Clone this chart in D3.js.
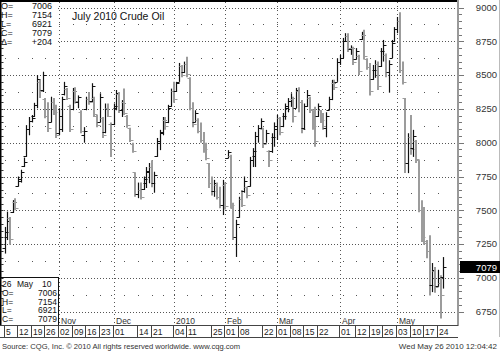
<!DOCTYPE html>
<html>
<head>
<meta charset="utf-8">
<script src="https://cdn.jsdelivr.net/npm/d3@7"></script>
<style>
  body { margin: 0; background: #fff; }
  svg { display: block; font-family: "Liberation Sans", Arial, sans-serif; }
</style>
</head>
<body>
<svg id="chart" width="500" height="352"></svg>
<script>
// trading calendar
var firstDay = "2009-10-05",
    lastDay = "2010-05-26",
    holidays = ["2009-11-26", "2009-12-25", "2010-01-01", "2010-01-18", "2010-02-15", "2010-04-02"];

// daily OHLC, July 2010 crude (one value per trading day)
var opens = [
  7220,7300,7440,7490,7560,7680,7720,7830,7900,8100,
  8160,8200,8280,8450,8390,8320,8200,8150,8300,8230,
  8070,8100,8360,8400,8270,8250,8380,8300,8230,8060,
  8250,8320,8310,8330,8200,8150,8180,8080,8260,8140,
  8140,8260,8360,8240,8300,8200,8110,7990,7780,7620,
  7650,7660,7700,7780,7820,7700,7900,8000,8070,8170,
  8150,8270,8380,8380,8450,8570,8520,8580,8480,8260,
  8150,8170,8090,8020,7950,7850,7700,7640,7690,7600,
  7540,7690,7890,7900,7520,7300,7450,7580,7640,7670,
  7680,7870,7900,8050,8110,8100,8000,7940,7940,8040,
  8100,8180,8120,8200,8260,8310,8320,8260,8380,8300,
  8110,8270,8330,8240,8200,8200,8240,8170,8110,8240,
  8320,8440,8450,8600,8630,8750,8790,8690,8700,8620,
  8640,8770,8800,8620,8560,8470,8540,8580,8570,8680,
  8650,8520,8630,8750,8840,8900,8540,8330,7850,8040,
  7960,8010,7870,7500,7480,7260,7200,6950,7050,6940,
  6960,7006];
var highs = [
  7377,7490,7450,7575,7590,7750,7800,7890,8130,8190,
  8205,8295,8500,8465,8525,8330,8300,8340,8330,8280,
  8255,8340,8450,8405,8280,8405,8410,8350,8240,8115,
  8340,8375,8440,8340,8205,8365,8190,8290,8290,8150,
  8290,8390,8375,8315,8400,8205,8110,8000,7780,7705,
  7705,7750,7820,7850,7870,7785,8035,8095,8190,8190,
  8280,8400,8450,8450,8590,8575,8600,8635,8485,8300,
  8240,8180,8150,8080,8000,7850,7750,7725,7705,7675,
  7725,7705,7945,7910,7555,7430,7600,7650,7750,7675,
  7895,7960,8080,8130,8180,8110,8095,7945,8070,8150,
  8205,8190,8220,8290,8330,8365,8340,8405,8410,8315,
  8290,8390,8340,8240,8265,8290,8240,8220,8225,8340,
  8465,8465,8625,8650,8775,8810,8810,8720,8710,8700,
  8650,8820,8835,8625,8590,8575,8610,8600,8700,8760,
  8660,8610,8760,8855,8930,8965,8600,8330,8070,8205,
  8095,8020,7870,7575,7525,7280,7315,7110,7080,7060,
  7020,7154];
var lows = [
  7180,7280,7245,7480,7500,7675,7705,7820,7895,8055,
  8150,8190,8255,8330,8375,8180,8080,8150,8205,8035,
  8055,8080,8350,8315,8080,8240,8290,8255,8070,8000,
  8240,8280,8300,8190,8115,8150,8035,8070,8190,7895,
  8130,8240,8220,8190,8205,8110,8005,7925,7600,7590,
  7580,7650,7665,7700,7670,7630,7895,7945,8055,8095,
  8145,8265,8295,8375,8450,8485,8515,8485,8240,8115,
  8150,8070,8000,7925,7870,7665,7610,7600,7580,7515,
  7465,7505,7885,7515,7280,7155,7445,7525,7630,7590,
  7675,7820,7820,8000,8095,7960,8000,7820,7925,7970,
  8020,8055,8115,8170,8225,8265,8150,8255,8225,8070,
  8095,8265,8220,8095,7970,8190,8145,8095,8040,8240,
  8315,8390,8450,8575,8625,8745,8670,8650,8575,8615,
  8500,8760,8615,8540,8350,8465,8480,8390,8560,8600,
  8485,8370,8625,8745,8810,8515,8430,7775,7775,7910,
  7895,7850,7485,7265,7245,7145,6870,6895,6890,6935,
  6700,6921];
var closes = [
  7340,7420,7290,7560,7520,7730,7780,7860,8100,8160,
  8180,8280,8470,8380,8500,8200,8110,8300,8230,8060,
  8200,8320,8420,8330,8100,8380,8310,8340,8090,8090,
  8320,8300,8420,8210,8130,8340,8060,8260,8200,7950,
  8270,8370,8240,8290,8220,8130,8020,7940,7620,7650,
  7600,7730,7790,7820,7700,7760,8010,8080,8170,8120,
  8260,8380,8320,8440,8570,8500,8580,8510,8260,8140,
  8220,8090,8020,7950,7890,7700,7640,7700,7600,7540,
  7700,7530,7930,7540,7300,7400,7580,7540,7720,7610,
  7870,7940,8050,8110,8160,7990,8070,7870,8040,8120,
  8180,8080,8200,8270,8310,8330,8200,8390,8300,8100,
  8270,8350,8250,8120,8010,8270,8170,8120,8200,8320,
  8440,8410,8600,8630,8750,8790,8700,8700,8600,8680,
  8530,8800,8640,8560,8380,8540,8580,8420,8680,8720,
  8520,8580,8740,8840,8900,8540,8450,7850,8040,7950,
  8050,7880,7500,7300,7270,7200,6950,7060,6930,7000,
  6875,7079];

var priceTicks = [9000, 8750, 8500, 8250, 8000, 7750, 7500, 7250, 7000, 6750];
var weekTickDates = ["2009-10-05", "2009-10-12", "2009-10-19", "2009-10-26", "2009-11-02", "2009-11-09",
  "2009-11-16", "2009-11-23", "2009-12-01", "2009-12-14", "2009-12-21", "2010-01-04", "2010-01-11",
  "2010-01-25", "2010-02-01", "2010-02-08", "2010-02-22", "2010-03-01", "2010-03-08", "2010-03-15",
  "2010-03-22", "2010-04-01", "2010-04-12", "2010-04-19", "2010-04-26", "2010-05-03", "2010-05-10",
  "2010-05-17", "2010-05-24"];
var weekTickLabels = ["5", "12", "19", "26", "02", "09", "16", "23", "01", "14", "21", "04", "11",
  "25", "01", "08", "22", "01", "08", "15", "22", "01", "12", "19", "26", "03", "10", "17", "24"];
var monthLabels = ["Nov", "Dec", "2010", "Feb", "Mar", "Apr", "May"];
var title = "July 2010 Crude Oil";
var lastDateParts = ["26", "May", "10"];
var sourceText = "Source: CQG, Inc. \u00a9 2010 All rights reserved worldwide. www.cqg.com";
var stampText = "Wed May 26 2010 12:04:42";

(function() {
  var svg = d3.select("#chart"),
      plotRight = 458,
      plotBottom = 325,
      rowBottom = 337;

  var parseDay = d3.timeParse("%Y-%m-%d"),
      fmtDay = d3.timeFormat("%Y-%m-%d");

  var days = d3.timeDay.range(parseDay(firstDay), d3.timeDay.offset(parseDay(lastDay), 1))
      .filter(function(d) { return d.getDay() !== 0 && d.getDay() !== 6 && holidays.indexOf(fmtDay(d)) < 0; })
      .map(fmtDay);

  var bars = days.map(function(d, i) {
    return {date: d, o: opens[i], h: highs[i], l: lows[i], c: closes[i]};
  });

  var x = d3.scalePoint().domain(days).range([4.5, 443.4]);
  var y = d3.scaleLinear().domain([6750, 9000]).range([311.7, 7.5]);
  function px(d) { return Math.round(x(d)) + 0.5; }
  function py(v) { return Math.round(y(v)) + 0.5; }

  var weekStarts = days.filter(function(d, i) {
    return i === 0 || +d3.timeMonday.floor(parseDay(d)) !== +d3.timeMonday.floor(parseDay(days[i - 1]));
  });
  var monthStarts = days.filter(function(d, i) {
    return i > 0 && d.slice(0, 7) !== days[i - 1].slice(0, 7);
  });

  svg.append("defs").append("clipPath").attr("id", "plot-clip")
    .append("rect").attr("x", 1).attr("y", 2).attr("width", plotRight - 1).attr("height", plotBottom - 2);

  // grid
  var grid = svg.append("g");
  grid.selectAll(".hline").data(priceTicks).enter().append("line")
    .attr("x1", 1).attr("x2", plotRight)
    .attr("y1", py).attr("y2", py)
    .attr("stroke", "#555").attr("stroke-dasharray", "1,2");
  grid.selectAll(".vline").data(monthStarts).enter().append("line")
    .attr("x1", px).attr("x2", px)
    .attr("y1", 2).attr("y2", plotBottom)
    .attr("stroke", "#555").attr("stroke-dasharray", "1,3");
  grid.selectAll(".dot").data(d3.cross(weekStarts, d3.range(6875, 9000, 250))).enter().append("rect")
    .attr("x", function(d) { return Math.round(x(d[0])); })
    .attr("y", function(d) { return Math.round(y(d[1])); })
    .attr("width", 1).attr("height", 1)
    .attr("fill", "#555");

  // OHLC bars
  var bar = svg.append("g").attr("clip-path", "url(#plot-clip)")
    .selectAll(".bar").data(bars).enter().append("g")
      .attr("stroke", function(d) { return d.c < d.o ? "#9c9c9c" : "#111"; });

  bar.append("line")
    .attr("x1", function(d) { return d.c < d.o ? Math.round(x(d.date)) : px(d.date); })
    .attr("x2", function(d) { return d.c < d.o ? Math.round(x(d.date)) : px(d.date); })
    .attr("y1", function(d) { return y(d.h); })
    .attr("y2", function(d) { return y(d.l); })
    .attr("stroke-width", function(d) { return d.c < d.o ? 2 : 1.2; });
  bar.append("line")
    .attr("x1", function(d) { return px(d.date) - 3; })
    .attr("x2", function(d) { return px(d.date); })
    .attr("y1", function(d) { return py(d.o); })
    .attr("y2", function(d) { return py(d.o); });
  bar.append("line")
    .attr("x1", function(d) { return px(d.date); })
    .attr("x2", function(d) { return px(d.date) + 3; })
    .attr("y1", function(d) { return py(d.c); })
    .attr("y2", function(d) { return py(d.c); });

  // month labels inside the plot bottom
  svg.selectAll(".month").data(monthStarts).enter().append("text")
    .attr("x", function(d) { return Math.round(x(d)) + 2; })
    .attr("y", 323.5)
    .attr("font-size", "8.5px")
    .attr("fill", "#333")
    .text(function(d, i) { return monthLabels[i]; });

  // top-left quote box
  var last = bars[bars.length - 1],
      prev = bars[bars.length - 2];
  var quote = [["O=", last.o], ["H=", last.h], ["L=", last.l], ["C=", last.c],
               ["\u0394=", d3.format("+")(last.c - prev.c)]];
  svg.append("rect").attr("x", 0).attr("y", 0).attr("width", 57).attr("height", 48).attr("fill", "#fff");
  var q = svg.append("g").attr("font-size", "9px").attr("fill", "#111");
  q.selectAll(".ql").data(quote).enter().append("text")
    .attr("x", 1).attr("y", function(d, i) { return 8.5 + i * 9.2; })
    .text(function(d) { return d[0]; });
  q.selectAll(".qv").data(quote).enter().append("text")
    .attr("x", 52).attr("y", function(d, i) { return 8.5 + i * 9.2; })
    .attr("text-anchor", "end")
    .text(function(d) { return d[1]; });

  svg.append("text")
    .attr("x", 72).attr("y", 20)
    .attr("font-size", "10.5px").attr("fill", "#111")
    .text(title);

  // bottom-left date box
  svg.append("rect").attr("x", 0.5).attr("y", 277.5).attr("width", 58).attr("height", 48)
    .attr("fill", "#fff").attr("stroke", "#111");
  var b = svg.append("g").attr("font-size", "8.5px").attr("fill", "#111");
  b.selectAll(".dp").data(lastDateParts).enter().append("text")
    .attr("x", function(d, i) { return [2, 17, 42][i]; })
    .attr("y", 287)
    .text(function(d) { return d; });
  b.selectAll(".bl").data(quote.slice(0, 4)).enter().append("text")
    .attr("x", 2).attr("y", function(d, i) { return 296 + i * 8.6; })
    .text(function(d) { return d[0]; });
  b.selectAll(".bv").data(quote.slice(0, 4)).enter().append("text")
    .attr("x", 57).attr("y", function(d, i) { return 296 + i * 8.6; })
    .attr("text-anchor", "end")
    .text(function(d) { return d[1]; });

  // frame
  svg.append("line").attr("x1", 0).attr("x2", plotRight).attr("y1", 1).attr("y2", 1)
    .attr("stroke", "#000").attr("stroke-width", 2);
  svg.append("line").attr("x1", 0.75).attr("x2", 0.75).attr("y1", 0).attr("y2", plotBottom)
    .attr("stroke", "#000").attr("stroke-width", 1.5);
  svg.selectAll(".ltick").data(d3.range(6800, 9000, 50)).enter().append("line")
    .attr("x1", 1).attr("x2", 3.5)
    .attr("y1", py).attr("y2", py)
    .attr("stroke", "#333");

  // right price axis
  svg.append("rect").attr("x", plotRight - 1).attr("y", 0).attr("width", 2).attr("height", plotBottom + 1)
    .attr("fill", "#999");
  svg.selectAll(".rtick").data(d3.range(6750, 9001, 50)).enter().append("line")
    .attr("x1", plotRight + 1)
    .attr("x2", function(d) { return d % 250 === 0 ? plotRight + 6 : plotRight + 4; })
    .attr("y1", py).attr("y2", py)
    .attr("stroke", "#777");
  svg.selectAll(".rlabel").data(priceTicks).enter().append("text")
    .attr("x", 497).attr("y", function(d) { return y(d); })
    .attr("dy", "0.35em")
    .attr("text-anchor", "end")
    .attr("font-size", "9.5px")
    .attr("fill", "#333")
    .text(function(d) { return d; });
  svg.append("line").attr("x1", 499.5).attr("x2", 499.5).attr("y1", 0).attr("y2", rowBottom)
    .attr("stroke", "#bbb");

  // last price marker
  svg.append("rect").attr("x", plotRight + 2).attr("y", Math.round(y(last.c)) - 6)
    .attr("width", 500 - plotRight - 2).attr("height", 12).attr("fill", "#000");
  svg.append("text")
    .attr("x", 497).attr("y", y(last.c)).attr("dy", "0.35em")
    .attr("text-anchor", "end").attr("font-size", "9.5px").attr("fill", "#fff")
    .text(last.c);

  // week label row
  svg.append("line").attr("x1", 0).attr("x2", plotRight).attr("y1", plotBottom + 0.5).attr("y2", plotBottom + 0.5)
    .attr("stroke", "#444");
  svg.append("line").attr("x1", 0).attr("x2", plotRight).attr("y1", rowBottom + 0.5).attr("y2", rowBottom + 0.5)
    .attr("stroke", "#444");
  svg.selectAll(".wsep").data(weekTickDates).enter().append("line")
    .attr("x1", function(d) { return Math.round(x(d)) - 0.5; })
    .attr("x2", function(d) { return Math.round(x(d)) - 0.5; })
    .attr("y1", plotBottom).attr("y2", rowBottom)
    .attr("stroke", "#444");
  svg.selectAll(".wlabel").data(weekTickDates).enter().append("text")
    .attr("x", function(d) { return Math.round(x(d)) + 1; })
    .attr("y", 335)
    .attr("font-size", "8.5px")
    .attr("fill", "#222")
    .text(function(d, i) { return weekTickLabels[i]; });

  // footer
  svg.append("text").attr("x", 2).attr("y", 349)
    .attr("font-size", "7.6px").attr("fill", "#333")
    .text(sourceText);
  svg.append("text").attr("x", 497).attr("y", 349)
    .attr("text-anchor", "end")
    .attr("font-size", "8px").attr("fill", "#333")
    .text(stampText);
})();
</script>
</body>
</html>
